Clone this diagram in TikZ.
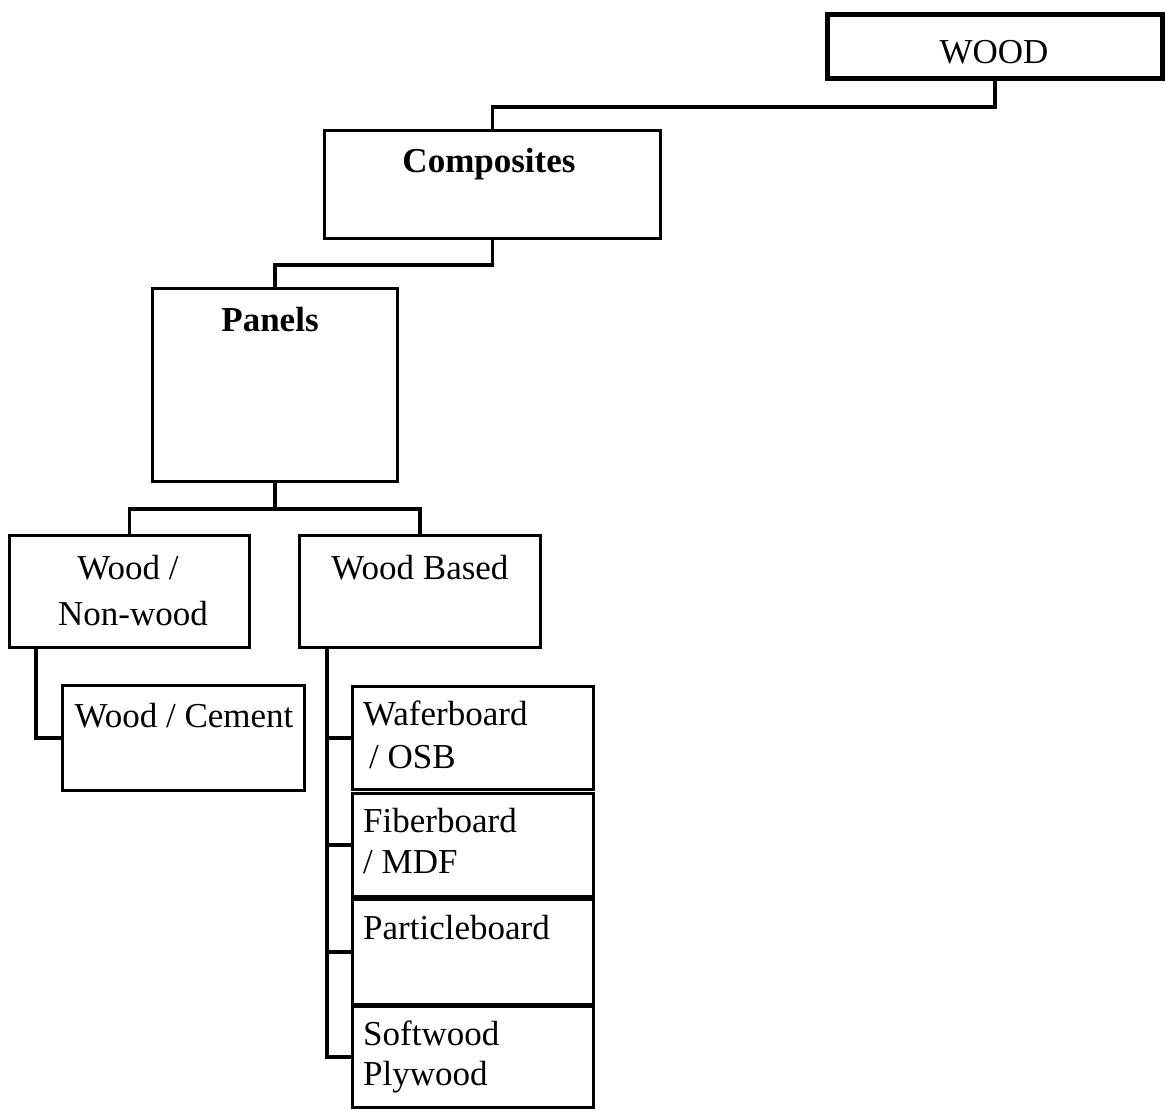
\documentclass[tikz,border=0pt]{standalone}
\usepackage{fontspec}
\setmainfont{Liberation Serif}
\usetikzlibrary{calc}
\begin{document}
\begin{tikzpicture}[x=1pt,y=-1pt,
  box/.style={draw=black,line width=3pt,rectangle,inner sep=0pt,anchor=north west},
  rootbox/.style={box,line width=5pt},
  link/.style={draw=black,line width=3.5pt},
  label/.style={inner sep=0pt,font=\fontsize{35}{42}\selectfont},
  boldlabel/.style={label,font=\fontsize{35}{42}\selectfont\bfseries}]
\useasboundingbox (0,0) rectangle (1166,1109);

% boxes
\node[rootbox,minimum width=335pt,minimum height=64pt] (wood) at (825,12) {};
\node[box,minimum width=336pt,minimum height=108pt] (comp) at (323,129) {};
\node[box,minimum width=245pt,minimum height=193pt] (panels) at (151,287) {};
\node[box,minimum width=240pt,minimum height=112pt] (wnw) at (8,534) {};
\node[box,minimum width=241pt,minimum height=112pt] (wb) at (298,534) {};
\node[box,minimum width=242pt,minimum height=105pt] (wc) at (61,684) {};
\node[box,minimum width=241pt,minimum height=103pt] (wafer) at (351,685) {};
\node[box,minimum width=241pt,minimum height=103pt] (fiber) at (351,792) {};
\node[box,minimum width=241pt,minimum height=105pt] (particle) at (351,898) {};
\node[box,minimum width=241pt,minimum height=101pt] (soft) at (351,1005) {};

% texts
\node[label,anchor=base] (t-wood) at (994,63) {WOOD};
\node[boldlabel,anchor=base] (t-comp) at (489,172) {Composites};
\node[boldlabel,anchor=base] (t-panels) at (270,331) {Panels};
\node[label,anchor=base] (t-wnw1) at (128,579) {Wood /};
\node[label,anchor=base] (t-wnw2) at (133,625) {Non-wood};
\node[label,anchor=base] (t-wb) at (420,579) {Wood Based};
\node[label,anchor=base] (t-wc) at (184,727) {Wood / Cement};
\node[label,anchor=base west] (t-wafer1) at (363,725) {Waferboard};
\node[label,anchor=base west] (t-wafer2) at (369,768) {/ OSB};
\node[label,anchor=base west] (t-fiber1) at (363,832) {Fiberboard};
\node[label,anchor=base west] (t-fiber2) at (363,873) {/ MDF};
\node[label,anchor=base west] (t-particle) at (363,939) {Particleboard};
\node[label,anchor=base west] (t-soft1) at (363,1045) {Softwood};
\node[label,anchor=base west] (t-soft2) at (363,1085) {Plywood};

% connectors
\draw[link] (wood.south) -- ++(0,26) -| (comp.north);
\draw[link] (comp.south) -- ++(0,25) -| (panels.north);
\draw[link] (panels.south) -- ++(0,26) coordinate (split);
\draw[link] (wnw.north) |- (split) -| (wb.north);
\draw[link] ($(wnw.south west)+(28,0)$) |- (wc.west);
\coordinate (trunk) at ($(wb.south west)+(29,0)$);
\draw[link] (trunk) |- (soft.west);
\draw[link] (trunk |- wafer.west) -- (wafer.west);
\draw[link] (trunk |- fiber.west) -- (fiber.west);
\draw[link] (trunk |- particle.west) -- (particle.west);
\end{tikzpicture}
\end{document}
